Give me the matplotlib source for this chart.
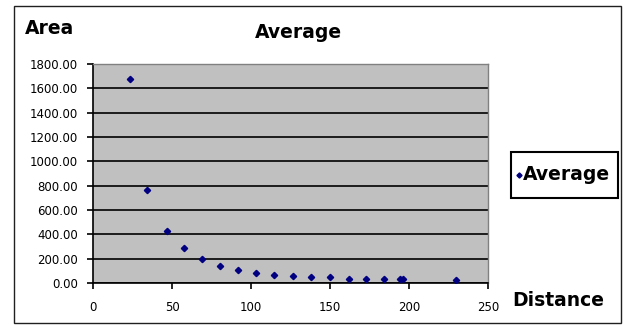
import matplotlib
matplotlib.use("Agg")
import matplotlib.pyplot as plt
from matplotlib.patches import Rectangle
from matplotlib.lines import Line2D
from matplotlib.ticker import FormatStrFormatter

distance = [23.4, 34.4, 46.6, 57.4, 69.0, 80.4, 92.0, 103.2, 114.8, 126.4,
            138.0, 150.0, 161.8, 173.0, 184.0, 194.5, 196.5, 229.5]
area = [1676, 764, 430, 285, 195, 140, 107, 80, 66, 60,
        52, 47, 36, 30, 30, 30, 30, 25]
series_name = "Average"
x_ticks = [0, 50, 100, 150, 200, 250]
y_ticks = [0, 200, 400, 600, 800, 1000, 1200, 1400, 1600, 1800]

W, H = 626, 325
fig = plt.figure(figsize=(W / 100, H / 100), dpi=100)
fig.patch.set_facecolor("white")

ax = fig.add_axes([93 / W, (H - 283) / H, (488 - 93) / W, (283 - 64) / H])
ax.set_facecolor("#C0C0C0")
ax.set_axisbelow(True)
pts, = ax.plot(distance, area, linestyle="none", marker="D", markersize=3.2,
               color="#000080", label=series_name, zorder=3)

ax.set_xlim(0, 250)
ax.set_ylim(0, 1800)
ax.set_xticks(x_ticks)
ax.set_yticks(y_ticks)
ax.yaxis.set_major_formatter(FormatStrFormatter("%.2f"))
ax.grid(axis="y", color="black", linewidth=1.2)
ax.grid(axis="x", visible=False)

for s in ["top", "right"]:
    ax.spines[s].set_color("#808080")
    ax.spines[s].set_linewidth(1.0)
for s in ["left", "bottom"]:
    ax.spines[s].set_color("black")
    ax.spines[s].set_linewidth(1.2)

ax.tick_params(axis="both", direction="out", length=4, width=1.2, color="black",
               labelsize=8.5)
ax.tick_params(axis="x", pad=9)
ax.tick_params(axis="y", pad=7)
for lbl in ax.get_xticklabels() + ax.get_yticklabels():
    lbl.set_fontfamily("DejaVu Sans")

bold = dict(fontfamily="DejaVu Sans", fontweight="bold", fontsize=13.5, color="black")
fig.text(25 / W, 1 - 29 / H, "Area", ha="left", va="center", **bold)
fig.text(298 / W, 1 - 33 / H, "Average", ha="center", va="center", **bold)
fig.text(512 / W, 1 - 300 / H, "Distance", ha="left", va="center", **bold)

# legend box
fig.patches.append(Rectangle((511 / W, 1 - 198 / H), (618 - 511) / W, (198 - 152) / H,
                             transform=fig.transFigure, facecolor="white",
                             edgecolor="black", linewidth=1.5, zorder=5))
fig.lines.append(Line2D([519 / W], [1 - 175 / H], transform=fig.transFigure,
                        linestyle="none", marker="D", markersize=2.6,
                        color=pts.get_color(), zorder=6))
fig.text(523 / W, 1 - 174 / H, pts.get_label(), ha="left", va="center",
         zorder=6, **bold)

fig.patches.append(Rectangle((14 / W, 2 / H), (621 - 14) / W, (323 - 6) / H,
                             transform=fig.transFigure, fill=False,
                             edgecolor="#202020", linewidth=1.0))

fig.savefig("out.png", dpi=100)
